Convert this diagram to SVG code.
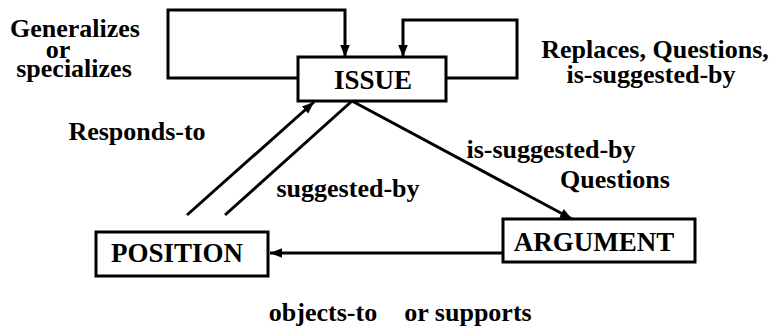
<svg xmlns="http://www.w3.org/2000/svg" width="777" height="331" viewBox="0 0 777 331">
<style>
  .box { fill: #fff; stroke: #000; stroke-width: 3; }
  .edge { fill: none; stroke: #000; stroke-width: 3; }
  .lbl { font-family: "Liberation Serif", "Times New Roman", serif; font-weight: bold; font-size: 26px; fill: #000; }
  .node { font-family: "Liberation Serif", "Times New Roman", serif; font-weight: bold; font-size: 27px; fill: #000; }
</style>
<defs>
  <marker id="ah" viewBox="0 0 10 10" refX="10" refY="5" markerWidth="4" markerHeight="4" orient="auto" markerUnits="strokeWidth">
    <path d="M0,1 L10,5 L0,9 z" fill="#000"/>
  </marker>
</defs>
<g id="connectors">
  <path class="edge" d="M298,78 H168 V10 H345 V57" marker-end="url(#ah)"/>
  <path class="edge" d="M446,78 H517 V20 H403 V57" marker-end="url(#ah)"/>
  <path class="edge" d="M187,215 L314,102" marker-end="url(#ah)"/>
  <path class="edge" d="M225,215 L352,101"/>
  <path class="edge" d="M352,101 L572,219" marker-end="url(#ah)"/>
  <path class="edge" d="M503,253 L270,253" marker-end="url(#ah)"/>
</g>
<g id="issue">
  <rect class="box" x="298" y="57" width="148" height="44"/>
  <text class="node" x="373" y="89" text-anchor="middle">ISSUE</text>
</g>
<g id="position">
  <rect class="box" x="96" y="232" width="172" height="44"/>
  <text class="node" x="177" y="262" text-anchor="middle">POSITION</text>
</g>
<g id="argument">
  <rect class="box" x="503" y="219" width="192" height="43"/>
  <text class="node" x="594" y="251" text-anchor="middle">ARGUMENT</text>
</g>
<g id="labels">
  <text class="lbl" x="75" y="37" text-anchor="middle">Generalizes</text>
  <text class="lbl" x="58" y="58" text-anchor="middle">or</text>
  <text class="lbl" x="74" y="77" text-anchor="middle">specializes</text>
  <text class="lbl" x="655" y="58" text-anchor="middle">Replaces, Questions,</text>
  <text class="lbl" x="651" y="83" text-anchor="middle">is-suggested-by</text>
  <text class="lbl" x="137" y="140" text-anchor="middle">Responds-to</text>
  <text class="lbl" x="348" y="197" text-anchor="middle">suggested-by</text>
  <text class="lbl" x="551" y="158" text-anchor="middle">is-suggested-by</text>
  <text class="lbl" x="615" y="188" text-anchor="middle">Questions</text>
  <text class="lbl" x="323" y="321" text-anchor="middle">objects-to</text>
  <text class="lbl" x="468" y="321" text-anchor="middle">or supports</text>
</g>
</svg>
